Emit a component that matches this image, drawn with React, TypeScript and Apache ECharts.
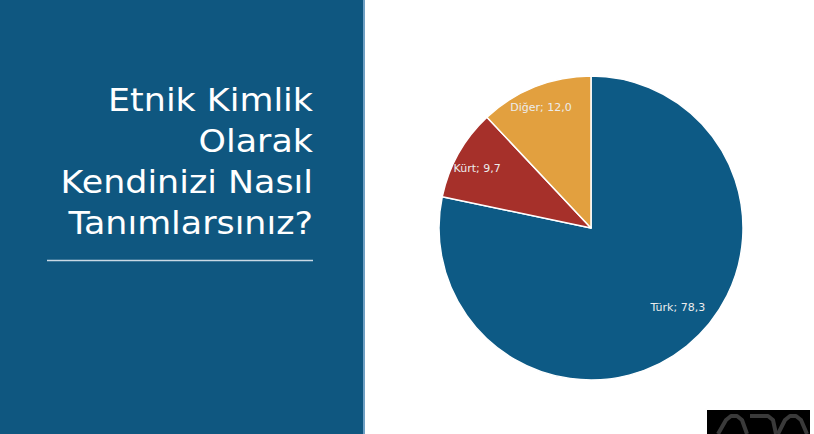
import React, { useEffect, useRef } from "react";
import * as echarts from "echarts";

const categories = ["Türk", "Kürt", "Diğer"];
const values = [78.3, 9.7, 12.0];
const colors = ["#0d5a85", "#a6302a", "#e2a03f"];
const labelOffsets = [[37, 18], [-45, -21], [-21, -47]];
const titleLines = ["Etnik Kimlik", "Olarak", "Kendinizi Nasıl", "Tanımlarsınız?"];

export default function App() {
  const ref = useRef<HTMLDivElement>(null);
  useEffect(() => {
    document.body.style.margin = "0";
    const chart = echarts.init(ref.current!, null, { renderer: "svg" });
    const titleFont = "'DejaVu Sans', sans-serif";
    chart.setOption({
      animation: false,
      backgroundColor: "#ffffff",
      graphic: [
        { type: "rect", shape: { x: 0, y: 0, width: 363, height: 434 }, style: { fill: "#0f5780" }, z: 0 },
        { type: "rect", shape: { x: 363, y: 0, width: 2, height: 434 }, style: { fill: "#6fa0c4" }, z: 0 },
        ...titleLines.map((t, i) => ({
          type: "text",
          x: 313,
          y: 100 + i * 41,
          scaleX: 1.09,
          style: {
            text: t,
            fill: "#ffffff",
            font: `32px ${titleFont}`,
            align: "right",
            verticalAlign: "middle",
          },
          z: 2,
        })),
        { type: "line", shape: { x1: 47, y1: 260.5, x2: 313, y2: 260.5 }, style: { stroke: "#c9d9e5", lineWidth: 1.5 }, z: 2 },
        { type: "rect", shape: { x: 707, y: 410, width: 103, height: 24 }, style: { fill: "#000000" }, z: 2 },
        { type: "polyline", shape: { points: [[718, 434], [726, 420], [731, 416], [737, 416], [742, 420], [747, 434]] }, style: { stroke: "#3a3a3a", lineWidth: 4, fill: null, lineJoin: "round" }, z: 3 },
        { type: "polyline", shape: { points: [[750, 416], [768, 416], [773, 420], [776, 434]] }, style: { stroke: "#3a3a3a", lineWidth: 4, fill: null, lineJoin: "round" }, z: 3 },
        { type: "polyline", shape: { points: [[778, 434], [785, 420], [790, 416], [796, 416], [801, 420], [807, 434]] }, style: { stroke: "#3a3a3a", lineWidth: 4, fill: null, lineJoin: "round" }, z: 3 },
      ],
      series: [
        {
          type: "pie",
          center: [591, 228],
          radius: [0, 152],
          startAngle: 90,
          clockwise: true,
          avoidLabelOverlap: false,
          label: {
            show: true,
            position: "inside",
            formatter: (p: any) => `${p.name}; ${p.value.toFixed(1).replace(".", ",")}`,
            color: "#ececec",
            fontSize: 11,
            fontFamily: "'DejaVu Sans', sans-serif",
          },
          labelLine: { show: false },
          itemStyle: { borderColor: "#ffffff", borderWidth: 1.5 },
          emphasis: { disabled: true },
          data: categories.map((c, i) => ({
            name: c,
            value: values[i],
            itemStyle: { color: colors[i] },
            label: { offset: labelOffsets[i] },
          })),
        },
      ],
    });
    return () => chart.dispose();
  }, []);
  return <div ref={ref} style={{ width: 814, height: 434 }} />;
}
